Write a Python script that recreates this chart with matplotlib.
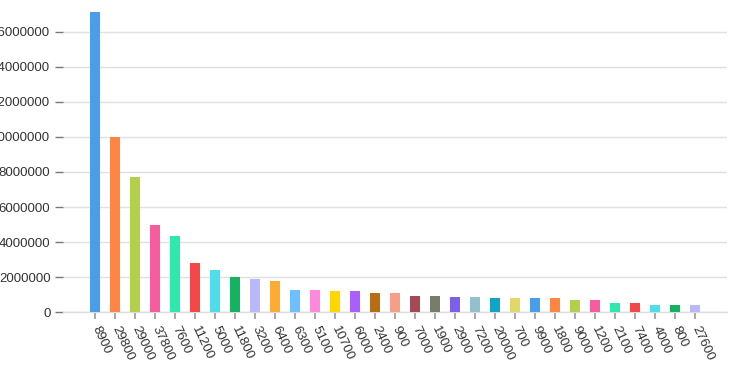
import numpy as np
import matplotlib
matplotlib.use("Agg")
import matplotlib.pyplot as plt
from matplotlib.ticker import FuncFormatter

# ----------- DATA -------------

categories = ["8900", "29800", "29000", "37800", "7600", "11200", "5000", "11800",
              "3200", "6400", "6300", "5100", "10700", "6000", "2400", "900",
              "7000", "1900", "2900", "7200", "20000", "700", "9900", "1800",
              "9000", "1200", "2100", "7400", "4000", "800", "27600"]

values = [17100000, 9970000, 7690000, 4970000, 4350000, 2790000, 2410000, 2010000,
          1920000, 1780000, 1270000, 1270000, 1210000, 1210000, 1080000, 1080000,
          930000, 930000, 870000, 870000, 810000, 810000, 810000, 810000,
          700000, 700000, 510000, 530000, 420000, 420000, 420000]

palette = ["#4A9DE8", "#FF8544", "#B2D04A", "#F75C9E", "#2EE8AC", "#F44848",
           "#4FDCEB", "#15B262", "#B8B8FB", "#FFAB33", "#6CC0FF", "#FF88DD",
           "#FFD600", "#A960FA", "#B76D12", "#F79E87", "#A34A56", "#767E6A",
           "#7E5EEB", "#93C0CE", "#10A4C6", "#E0D868"]

y_ticks = [0, 2000000, 4000000, 6000000, 8000000, 10000000, 12000000, 14000000, 16000000]

# ----------- PLOT -------------

plt.rcParams['font.family'] = ['Liberation Sans', 'DejaVu Sans']

fig = plt.figure(figsize=(7.4, 3.75), dpi=100)
ax = fig.add_axes([0.0851, 0.167, 0.8973, 0.833])

x = np.arange(len(categories))
colors = [palette[i % len(palette)] for i in range(len(categories))]
ax.bar(x, values, width=0.5, color=colors, zorder=3)

ax.set_xlim(-1.6, len(categories) - 1 + 1.6)
ax.set_ylim(0, 17800000)

ax.set_yticks(y_ticks)
ax.yaxis.set_major_formatter(FuncFormatter(lambda v, p: f"{int(v)}"))
ax.grid(axis='y', color='#e0e0e0', linewidth=1, zorder=0)

ax.set_xticks(x)
ax.set_xticklabels(categories, rotation=-65, ha='left', va='center',
                   rotation_mode='anchor')

ax.tick_params(axis='y', length=6, width=1, color='#777777', pad=3,
               labelsize=9.5, labelcolor='#333333')
ax.tick_params(axis='x', length=5, width=1.5, color='#aaaaaa', pad=5,
               labelsize=9.5, labelcolor='#333333')

for side in ['top', 'right', 'left']:
    ax.spines[side].set_visible(False)
ax.spines['bottom'].set_color('#dddddd')
ax.spines['bottom'].set_linewidth(1)

fig.savefig("out.png", dpi=100)
